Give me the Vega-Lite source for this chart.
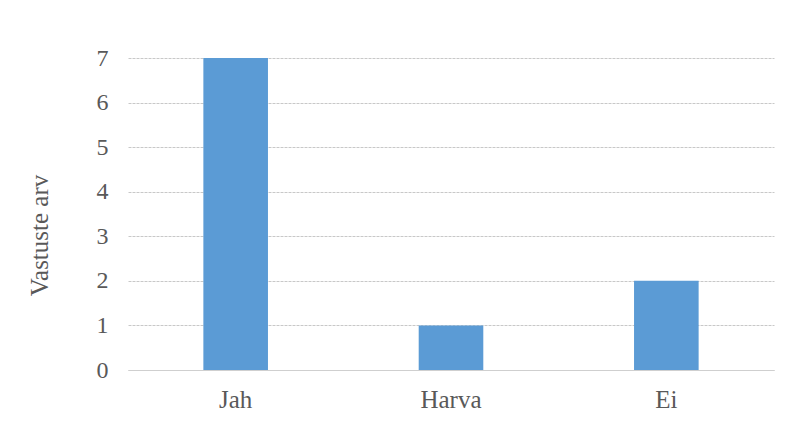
{
  "$schema": "https://vega.github.io/schema/vega-lite/v6.json",
  "width": 646,
  "height": 312,
  "autosize": {"type": "none"},
  "padding": {"left": 128, "top": 58, "right": 16, "bottom": 53},
  "background": "white",
  "data": {"values": [
    {"vastus": "Jah", "arv": 7},
    {"vastus": "Harva", "arv": 1},
    {"vastus": "Ei", "arv": 2}
  ]},
  "mark": {"type": "bar", "color": "#5B9BD5"},
  "encoding": {
    "x": {
      "field": "vastus", "type": "nominal", "sort": null,
      "scale": {"paddingInner": 0.7, "paddingOuter": 0.35},
      "axis": {"title": null, "labelAngle": 0, "domain": true, "domainColor": "#cfcfcf", "ticks": false, "labelPadding": 17, "labelFont": "Liberation Serif", "labelFontSize": 25, "labelColor": "#595959"}
    },
    "y": {
      "field": "arv", "type": "quantitative",
      "scale": {"domain": [0, 7]},
      "axis": {"title": "Vastuste arv", "titleFont": "Liberation Serif", "titleFontSize": 25, "titleFontWeight": "normal", "titleColor": "#595959", "titlePadding": 44, "titleY": 177, "values": [0,1,2,3,4,5,6,7], "domain": false, "ticks": false, "labelPadding": 20, "labelFont": "Liberation Serif", "labelFontSize": 24, "labelColor": "#595959", "gridColor": "#c8c8c8", "gridDash": [3, 1]}
    }
  },
  "config": {"view": {"stroke": null}}
}
